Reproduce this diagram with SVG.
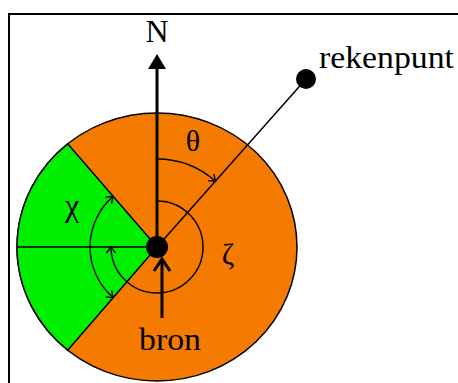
<svg xmlns="http://www.w3.org/2000/svg" width="458" height="383" viewBox="0 0 458 383">
<style>
.ln{stroke:#000;stroke-width:1.5;fill:none}
.arc{stroke:#000;stroke-width:1.4;fill:none}
.t{font-family:"Liberation Serif","Times New Roman",serif;fill:#000}
</style>
<defs>
<marker id="open" markerUnits="userSpaceOnUse" markerWidth="14" markerHeight="14" refX="7" refY="7" orient="auto-start-reverse" viewBox="0 0 14 14">
<path d="M1,2.5 L7,7 L1,11.5" fill="none" stroke="#000" stroke-width="1.4"/>
</marker>
</defs>
<rect width="458" height="383" fill="#fff"/>
<path d="M9,390 V14 H470" fill="none" stroke="#000" stroke-width="2"/>
<g id="disc">
<ellipse cx="157" cy="247" rx="140" ry="134" fill="#F57A00" stroke="#000" stroke-width="1.5"/>
<path d="M157,247 L67.7,143.8 A140,134 0 0,0 67.7,350.2 Z" fill="#00EE00" stroke="#000" stroke-width="1.5"/>
</g>
<g id="connectors">
<line class="ln" x1="17" y1="247" x2="157" y2="247"/>
<line class="ln" x1="157" y1="247" x2="306" y2="79"/>
<line x1="157" y1="247" x2="157" y2="66" stroke="#000" stroke-width="3"/>
<polygon points="157,54 148,69 166,69" fill="#000"/>
<path class="arc" d="M157,159 A88,88 0 0,1 215.4,181.2" marker-end="url(#open)"/>
<path class="arc" d="M157,201 A46,46 0 1,1 111,247" marker-end="url(#open)"/>
<path class="arc" d="M113.1,196.4 A67,67 0 0,0 113.1,297.6" marker-start="url(#open)" marker-end="url(#open)"/>
<line x1="162" y1="318" x2="162" y2="260" stroke="#000" stroke-width="3"/>
<path d="M154,271 L162,259 L170,271" fill="none" stroke="#000" stroke-width="3"/>
</g>
<g id="bron">
<circle cx="157" cy="247" r="11" fill="#000"/>
<text class="t" x="170" y="350" font-size="32" text-anchor="middle" textLength="62" lengthAdjust="spacingAndGlyphs">bron</text>
</g>
<g id="rekenpunt">
<circle cx="306" cy="79" r="10" fill="#000"/>
<text class="t" x="319" y="68" font-size="32" textLength="135" lengthAdjust="spacingAndGlyphs">rekenpunt</text>
</g>
<g id="north">
<text class="t" x="157" y="42" font-size="32" text-anchor="middle">N</text>
</g>
<g id="labels">
<text class="t" x="193" y="151" font-size="30" text-anchor="middle">θ</text>
<text class="t" x="72" y="216" font-size="32" text-anchor="middle">χ</text>
<text class="t" x="228" y="264" font-size="30" text-anchor="middle">ζ</text>
</g>
</svg>
